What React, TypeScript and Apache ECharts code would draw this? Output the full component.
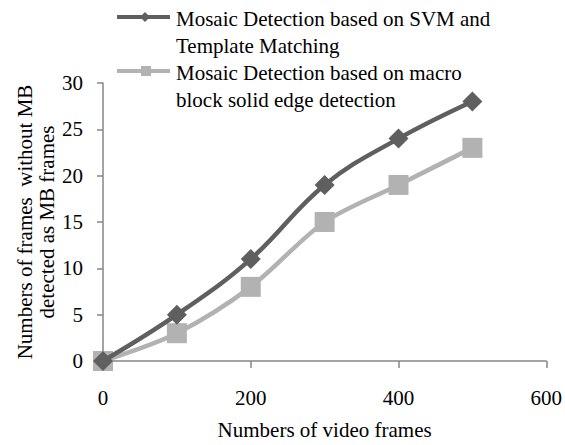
import React, { useEffect, useRef } from "react";
import * as echarts from "echarts";

const xValues = [0, 100, 200, 300, 400, 500];
const svmValues = [0, 5, 11, 19, 24, 28];
const mbValues = [0, 3, 8, 15, 19, 23];
const seriesNames = [
  "Mosaic Detection based on SVM and\nTemplate Matching",
  "Mosaic Detection based on macro\nblock solid edge detection",
];
const xAxisName = "Numbers of video frames";
const yAxisName = "Numbers of frames  without MB\ndetected as MB frames";

const DARK = "#5f5f5f";
const LIGHT = "#b2b2b2";
const AXIS = "#868686";
const FONT = "'Liberation Serif', 'Times New Roman', serif";
const FS = 21;

export default function App() {
  const ref = useRef<HTMLDivElement>(null);
  useEffect(() => {
    if (!ref.current) return;
    const chart = echarts.init(ref.current, undefined, { renderer: "svg" });
    const pair = (ys: number[]) => xValues.map((x, i) => [x, ys[i]]);
    chart.setOption({
      animation: false,
      backgroundColor: "#ffffff",
      textStyle: { fontFamily: FONT, color: "#000" },
      grid: { left: 103, right: 18, top: 83, bottom: 77 },
      xAxis: {
        type: "value",
        min: 0,
        max: 600,
        interval: 200,
        name: xAxisName,
        nameLocation: "middle",
        nameGap: 58,
        nameMoveOverlap: false,
        nameTextStyle: { fontFamily: FONT, fontSize: FS, color: "#000" },
        axisLine: { show: true, lineStyle: { color: AXIS, width: 1.5 } },
        axisTick: { show: true, length: 7, lineStyle: { color: AXIS, width: 1.5 } },
        axisLabel: { margin: 26, fontFamily: FONT, fontSize: FS, color: "#000" },
        splitLine: { show: false },
      },
      yAxis: {
        type: "value",
        min: 0,
        max: 30,
        interval: 5,
        name: yAxisName,
        nameLocation: "middle",
        nameRotate: 90,
        nameGap: 45,
        nameMoveOverlap: false,
        nameTextStyle: { fontFamily: FONT, fontSize: FS, color: "#000", lineHeight: 22 },
        axisLine: { show: true, lineStyle: { color: AXIS, width: 1.5 } },
        axisTick: { show: true, length: 6, lineStyle: { color: AXIS, width: 1.5 } },
        axisLabel: { margin: 20, fontFamily: FONT, fontSize: FS, color: "#000" },
        splitLine: { show: false },
      },
      series: [
        {
          name: seriesNames[1],
          type: "line",
          data: pair(mbValues),
          smooth: 0.3,
          symbol: "rect",
          symbolSize: 20,
          lineStyle: { color: LIGHT, width: 4.5 },
          itemStyle: { color: LIGHT },
          z: 2,
        },
        {
          name: seriesNames[0],
          type: "line",
          data: pair(svmValues),
          smooth: 0.4,
          symbol: "diamond",
          symbolSize: 20,
          lineStyle: { color: DARK, width: 4.5 },
          itemStyle: { color: DARK },
          z: 3,
        },
      ],
      graphic: [
        { type: "line", shape: { x1: 117, y1: 17, x2: 170, y2: 17 }, style: { stroke: DARK, lineWidth: 4 } },
        {
          type: "polygon",
          shape: { points: [[145, 12], [150, 17], [145, 22], [140, 17]] },
          style: { fill: DARK },
        },
        {
          type: "text",
          x: 176,
          y: 5,
          style: {
            text: seriesNames[0],
            fontFamily: FONT,
            fontSize: FS,
            fill: "#000",
            lineHeight: 27,
            verticalAlign: "top",
          },
        },
        { type: "line", shape: { x1: 117, y1: 71, x2: 170, y2: 71 }, style: { stroke: LIGHT, lineWidth: 4 } },
        { type: "rect", shape: { x: 141, y: 66, width: 10, height: 10 }, style: { fill: LIGHT } },
        {
          type: "text",
          x: 176,
          y: 59,
          style: {
            text: seriesNames[1],
            fontFamily: FONT,
            fontSize: FS,
            fill: "#000",
            lineHeight: 27,
            verticalAlign: "top",
          },
        },
      ],
    });
    return () => chart.dispose();
  }, []);
  return <div ref={ref} style={{ width: 565, height: 445, position: "absolute", left: 0, top: 0 }} />;
}
